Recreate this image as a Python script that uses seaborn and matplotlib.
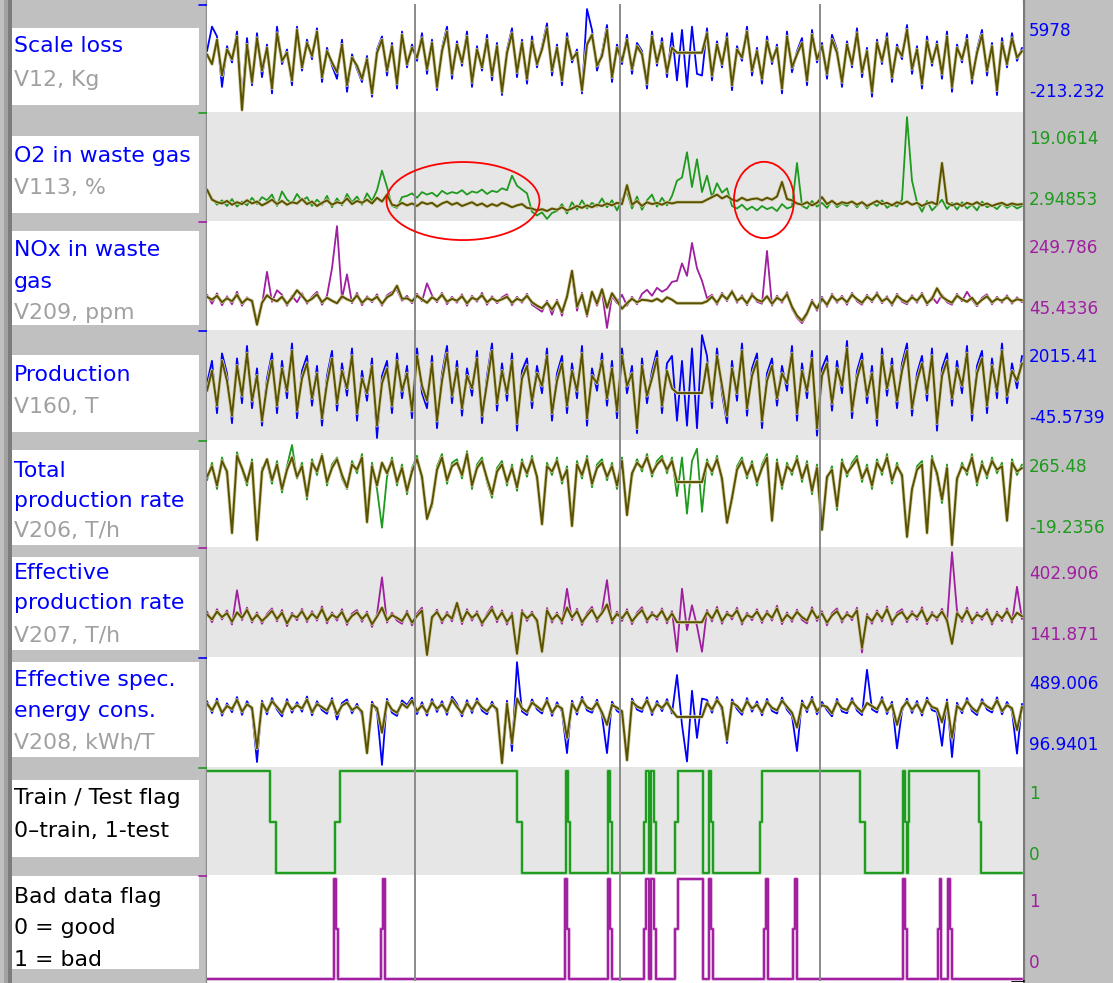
import numpy as np
import matplotlib
matplotlib.use("Agg")
import matplotlib.pyplot as plt
import seaborn as sns
from matplotlib.patches import Rectangle, Ellipse
from matplotlib import patheffects as pe
from matplotlib.transforms import blended_transform_factory

sns.set_theme(style="white")
plt.rcParams['font.family'] = ['DejaVu Sans']

# ---------------------------------------------------------------- data
SAMPLE_STEP = 5          # samples between stored points
N_SAMPLES = 816

scale_loss_meas = [3400, 4900, 4300, 1200, 3700, 2700, 4600, 400, 4200, 1300,
    4500, 1800, 3800, 800, 4900, 2600, 3500, 1300, 4900, 2200,
    4100, 2900, 4800, 1500, 3600, 2500, 1700, 4100, 900, 3200,
    2300, 1500, 3100, 600, 3500, 4300, 1900, 3900, 1100, 4600,
    2400, 3800, 2800, 4500, 2000, 4100, 1000, 3600, 4900, 1700,
    4000, 2500, 4600, 1200, 3700, 2200, 4400, 1600, 3900, 700,
    3500, 4800, 1800, 4100, 1400, 4300, 2400, 3700, 5100, 1900,
    3800, 1300, 4500, 2700, 3500, 800, 5978, 4700, 2200, 3300,
    5000, 1500, 3800, 2600, 4400, 2000, 3900, 3400, 1100, 4600,
    2500, 4200, 1800, 4500, 1600, 4700, 1200, 4900, 2000, 1900,
    4800, 1600, 4000, 2400, 4500, 1000, 3700, 2800, 4900, 1900,
    3600, 1400, 4300, 2600, 3800, 800, 4600, 2100, 3400, 4200,
    1300, 4700, 2700, 3900, 1700, 4400, 3500, 1200, 4000, 2400,
    4800, 1800, 3600, 600, 4100, 2600, 4500, 1500, 3800, 2900,
    5000, 2000, 3700, 1100, 4300, 2500, 4000, 1700, 4600, 900,
    3800, 2700, 4400, 1400, 3500, 4700, 1900, 3900, 700, 4200,
    2400, 4500, 2800, 3600]
scale_loss_model = [3200, 2600, 4100, 1900, 3500, 2900, 4300, -213.232, 3800, 1500,
    4200, 2200, 3600, 1100, 4500, 2800, 3300, 1600, 4700, 2400,
    3900, 3100, 4600, 1800, 3400, 2700, 2100, 3800, 1300, 3000,
    2500, 1700, 2900, 800, 3300, 4100, 2200, 3700, 1400, 4400,
    2600, 3600, 3000, 4200, 2300, 3900, 1200, 3400, 4600, 2000,
    3800, 2700, 4300, 1500, 3500, 2400, 4100, 1900, 3700, 900,
    3300, 4500, 2100, 3900, 1700, 4000, 2600, 3500, 4800, 2200,
    3600, 1600, 4200, 2900, 3300, 1000, 3800, 4400, 2500, 3100,
    4700, 1800, 3600, 2800, 4100, 2300, 3700, 3200, 1400, 4300,
    2700, 3900, 2100, 3600, 3300, 3300, 3300, 3300, 3300, 3300,
    4500, 1900, 3800, 2600, 4200, 1300, 3500, 3000, 4600, 2200,
    3400, 1700, 4000, 2800, 3600, 1100, 4300, 2400, 3200, 3900,
    1600, 4400, 2900, 3700, 2000, 4100, 3300, 1500, 3800, 2600,
    4500, 2100, 3400, 900, 3900, 2800, 4200, 1800, 3600, 3100,
    4700, 2300, 3500, 1400, 4000, 2700, 3800, 2000, 4300, 1200,
    3600, 2900, 4100, 1700, 3300, 4400, 2200, 3700, 1000, 3900,
    2600, 4200, 3000, 3400]

o2_meas = [7.4, 6.2, 5.2, 5.9, 5.0, 6.1, 4.9, 5.7, 5.1, 6.3,
    5.3, 6.4, 5.9, 6.8, 5.0, 7.3, 6.0, 5.4, 6.9, 5.8,
    6.4, 5.0, 6.0, 5.2, 6.6, 4.8, 6.2, 5.1, 6.9, 5.6,
    6.5, 5.2, 7.0, 5.8, 7.5, 10.6, 8.0, 5.0, 4.7, 6.4,
    6.6, 7.0, 6.3, 7.2, 6.8, 7.1, 6.5, 7.4, 6.9, 7.2,
    7.0, 7.5, 6.8, 7.3, 7.1, 7.6, 6.9, 7.4, 7.2, 7.8,
    7.5, 9.8, 8.2, 7.6, 7.0, 4.1, 3.5, 4.0, 2.94853, 3.9,
    4.2, 5.3, 3.8, 5.6, 4.4, 5.9, 4.6, 5.5, 4.9, 6.2,
    4.8, 5.9, 4.3, 6.1, 7.2, 4.6, 6.5, 4.4, 5.9, 6.8,
    4.9, 6.3, 5.1, 6.6, 9.0, 9.5, 13.5, 8.0, 12.4, 7.2,
    9.8, 6.4, 8.6, 7.1, 7.8, 5.0, 4.6, 5.2, 4.4, 4.9,
    4.3, 5.0, 4.5, 4.8, 4.2, 5.3, 4.6, 4.9, 11.8, 5.0,
    4.6, 5.8, 4.9, 5.5, 4.7, 5.9, 4.8, 5.4, 5.0, 5.8,
    4.8, 5.7, 4.6, 5.5, 5.0, 5.9, 4.7, 5.3, 4.9, 6.0,
    19.0614, 9.0, 5.6, 4.1, 5.8, 4.3, 5.1, 6.0, 4.5, 5.5,
    4.4, 5.6, 4.6, 5.2, 4.3, 5.7, 4.8, 5.1, 4.5, 5.4,
    4.7, 5.2, 4.6, 5.0]
o2_model = [7.6, 6.0, 5.6, 5.4, 5.8, 5.2, 5.6, 5.3, 5.9, 5.4,
    5.7, 5.1, 5.5, 6.0, 5.3, 5.8, 5.2, 5.6, 5.4, 6.1,
    5.3, 5.7, 5.0, 5.5, 5.9, 5.2, 5.6, 5.4, 6.2, 5.3,
    5.8, 5.5, 6.0, 5.4, 6.3, 5.7, 6.8, 5.2, 5.0, 5.5,
    5.1, 5.4, 5.0, 5.6, 5.3, 5.5, 4.9, 5.4, 5.7, 5.2,
    5.5, 5.0, 5.3, 5.6, 5.1, 5.4, 4.9, 5.3, 5.0, 5.5,
    5.2, 4.8, 5.1, 5.3, 4.7, 4.6, 4.3, 4.5, 4.2, 4.6,
    4.4, 4.8, 4.3, 4.6, 5.0, 4.7, 5.1, 4.8, 5.2, 5.0,
    5.4, 5.1, 5.5, 5.3, 8.3, 5.2, 5.8, 5.0, 5.6, 5.3,
    5.5, 5.2, 5.6, 5.4, 5.6, 5.6, 5.6, 5.6, 5.6, 5.6,
    6.0, 6.4, 6.8, 6.2, 6.6, 6.0, 5.8, 6.3, 5.9, 6.1,
    6.2, 5.9, 6.3, 6.0, 6.5, 8.8, 6.1, 5.9, 5.4, 5.2,
    5.6, 5.1, 5.5, 6.4, 5.3, 5.8, 5.2, 5.6, 5.4, 5.7,
    5.2, 5.6, 5.0, 5.4, 5.8, 5.3, 5.5, 5.1, 5.6, 5.3,
    5.7, 5.2, 5.5, 5.0, 5.4, 5.6, 5.2, 11.8, 5.5, 5.1,
    5.4, 5.0, 5.5, 5.2, 5.6, 5.1, 5.4, 5.0, 5.3, 5.5,
    5.1, 5.4, 5.2, 5.3]

nox_meas = [112, 94, 115, 91, 109, 93, 118, 90, 107, 96,
    60, 92, 158, 98, 121, 112, 90, 110, 97, 115,
    94, 108, 118, 92, 110, 165, 249.786, 104, 153, 95,
    116, 91, 109, 97, 113, 90, 111, 118, 122, 100,
    110, 95, 114, 99, 135, 111, 97, 116, 93, 108,
    96, 113, 90, 110, 98, 116, 92, 109, 95, 107,
    113, 91, 108, 96, 114, 92, 85, 78, 100, 72,
    102, 70, 112, 150, 80, 116, 68, 114, 90, 118,
    45.4336, 110, 95, 112, 90, 108, 93, 114, 122, 110,
    126, 118, 124, 138, 140, 175, 150, 216, 165, 140,
    105, 112, 92, 116, 99, 121, 96, 111, 91, 115,
    98, 94, 200, 90, 110, 96, 117, 84, 66, 55,
    72, 102, 80, 108, 88, 114, 96, 110, 92, 116,
    99, 92, 112, 97, 117, 95, 109, 90, 114, 98,
    93, 111, 96, 116, 91, 108, 95, 112, 97, 92,
    114, 99, 118, 102, 89, 106, 113, 93, 108, 96,
    111, 94, 107, 97]
nox_model = [108, 102, 110, 97, 105, 99, 112, 95, 104, 100,
    52, 96, 111, 103, 99, 108, 94, 106, 121, 110,
    98, 104, 113, 97, 106, 100, 95, 109, 103, 99,
    111, 96, 105, 101, 108, 94, 107, 113, 130, 104,
    105, 99, 110, 103, 96, 107, 101, 112, 98, 104,
    100, 109, 95, 106, 102, 111, 97, 105, 99, 103,
    108, 96, 104, 100, 110, 97, 90, 85, 96, 82,
    98, 77, 108, 160, 88, 112, 72, 118, 94, 123,
    86, 115, 100, 84, 95, 104, 97, 102, 101, 99,
    104, 98, 107, 102, 95, 95, 95, 95, 95, 95,
    99, 108, 96, 112, 103, 118, 100, 107, 95, 111,
    102, 98, 109, 94, 106, 100, 113, 88, 70, 60,
    75, 98, 84, 104, 92, 110, 100, 106, 97, 112,
    103, 96, 108, 101, 113, 99, 105, 94, 110, 102,
    97, 107, 100, 112, 95, 104, 125, 108, 101, 96,
    110, 103, 98, 106, 93, 102, 109, 97, 104, 100,
    107, 98, 103, 101]

production_meas = [1050, 1500, 450, 1650, 1250, 250, 1550, 650, 1800, 550,
    1350, 200, 1150, 1650, 450, 1500, 750, 1850, 350, 1300,
    1600, 600, 1400, 200, 1200, 1700, 500, 1450, 800, 1750,
    300, 1300, 700, 1550, -45.5739, 1200, 1500, 450, 1650, 750,
    1400, 350, 1750, 850, 550, 1600, 150, 1250, 1800, 650,
    1500, 400, 1350, 800, 1700, 250, 1200, 1850, 500, 1450,
    700, 1650, 100, 1300, 1550, 550, 1400, 850, 1750, 300,
    1250, 1600, 450, 1450, 750, 1800, 200, 1350, 900, 1650,
    600, 1500, 350, 1750, 850, 1400, 50, 1550, 650, 1300,
    1700, 450, 1450, 1600, 300, 1500, 200, 1750, 150, 2015.41,
    1600, 550, 1750, 850, 250, 1500, 700, 1850, 400, 1350,
    1650, 150, 1250, 1550, 600, 1400, 900, 1800, 300, 1450,
    750, 1700, 0, 1350, 1600, 500, 1500, 850, 1900, 350,
    1300, 1650, 650, 1400, 200, 1750, 800, 1550, 550, 1450,
    1850, 400, 1250, 1600, 700, 1750, 100, 1350, 1650, 600,
    1500, 850, 1800, 300, 1400, 1700, 450, 1550, 750, 1850,
    650, 1450, 950, 1600]
production_model = [900, 1300, 600, 1500, 1100, 400, 1400, 800, 1650, 700,
    1200, 300, 1000, 1500, 600, 1350, 900, 1700, 500, 1150,
    1450, 750, 1250, 350, 1050, 1550, 650, 1300, 950, 1600,
    450, 1150, 850, 1400, 200, 1050, 1350, 600, 1500, 900,
    1250, 500, 1600, 1000, 700, 1450, 300, 1100, 1650, 800,
    1350, 550, 1200, 950, 1550, 400, 1050, 1700, 650, 1300,
    850, 1500, 250, 1150, 1400, 700, 1250, 1000, 1600, 450,
    1100, 1450, 600, 1300, 900, 1650, 350, 1200, 1050, 1500,
    750, 1350, 500, 1600, 1000, 1250, 150, 1400, 800, 1150,
    1550, 600, 1300, 950, 855, 855, 855, 855, 855, 855,
    1450, 700, 1600, 1000, 400, 1350, 850, 1700, 550, 1200,
    1500, 300, 1100, 1400, 750, 1250, 1050, 1650, 450, 1300,
    900, 1550, 150, 1200, 1450, 650, 1350, 1000, 1750, 500,
    1150, 1500, 800, 1250, 350, 1600, 950, 1400, 700, 1300,
    1700, 550, 1100, 1450, 850, 1600, 250, 1200, 1500, 750,
    1350, 1000, 1650, 450, 1250, 1550, 600, 1400, 900, 1700,
    800, 1300, 1100, 1450]

total_rate_meas = [165, 215, 140, 230, 180, 20, 245, 195, 150, 225,
    5, 200, 215, 155, 220, 130, 205, 265.48, 170, 215,
    110, 225, 180, 240, 150, 210, 230, 170, 140, 220,
    185, 240, 60, 215, 140, 30, 175, 230, 150, 210,
    125, 200, 235, 165, 65, 90, 205, 240, 155, 215,
    225, 170, 248, 140, 210, 230, 160, 115, 200, 220,
    150, 210, 135, 225, 175, 235, 165, 50, 215, 180,
    230, 155, 205, 45, 220, 170, 235, 145, 210, 225,
    165, 215, 140, 230, 75, 175, 225, 190, 240, 175,
    220, 235, 185, 230, 120, 230, 70, 220, 255, 75,
    225, 180, 235, 160, 55, 105, 205, 230, 170, 220,
    150, 210, 240, 60, 225, 140, 215, 180, 235, 160,
    220, 125, 210, 35, 165, 205, 80, 225, 175, 215,
    235, 160, 210, 140, 225, 180, 240, 155, 215, 170,
    15, 130, 205, 220, 25, 235, 175, 100, 210, -10,
    160, 215, 180, 240, 150, 220, 170, 230, 185, 215,
    60, 225, 180, 210]
total_rate_model = [175, 205, 150, 220, 190, 15, 235, 200, 160, 215,
    -5, 190, 225, 165, 210, 140, 195, 230, 175, 205,
    120, 215, 190, 235, 160, 200, 225, 180, 145, 210,
    195, 230, 46, 205, 150, 215, 185, 220, 160, 200,
    135, 190, 225, 175, 55, 100, 195, 230, 165, 205,
    215, 180, 240, 150, 200, 220, 170, 125, 190, 210,
    160, 200, 145, 215, 185, 225, 175, 40, 205, 190,
    220, 165, 195, 35, 210, 180, 225, 155, 200, 215,
    175, 205, 150, 220, 66, 185, 215, 200, 230, 185,
    210, 225, 195, 220, 160, 160, 160, 160, 160, 160,
    215, 190, 225, 170, 44, 115, 195, 220, 180, 210,
    160, 200, 230, 50, 215, 150, 205, 190, 225, 170,
    210, 135, 200, 24, 175, 195, 90, 215, 185, 205,
    225, 170, 200, 150, 215, 190, 230, 165, 205, 180,
    4, 140, 195, 210, 15, 225, 185, 110, 200, -19.2356,
    170, 205, 190, 230, 160, 210, 180, 220, 195, 205,
    50, 215, 190, 200]

eff_rate_meas = [252, 225, 258, 232, 255, 219, 306, 230, 262, 224,
    250, 221, 246, 260, 227, 256, 215, 249, 230, 259,
    225, 253, 229, 265, 222, 250, 229, 258, 218, 247,
    256, 226, 252, 213, 245, 339, 224, 249, 229, 221,
    254, 217, 247, 262, 150, 232, 257, 222, 251, 227,
    268, 220, 258, 229, 253, 216, 246, 265, 225, 255,
    219, 249, 152, 256, 228, 252, 223, 157, 261, 224,
    250, 221, 310, 230, 259, 218, 248, 264, 226, 254,
    332, 222, 252, 228, 258, 220, 249, 263, 224, 251,
    231, 260, 222, 253, 150, 310, 205, 268, 215, 150,
    256, 227, 264, 221, 252, 232, 262, 219, 249, 230,
    258, 223, 254, 229, 267, 220, 250, 226, 257, 231,
    222, 263, 228, 253, 217, 248, 260, 224, 251, 230,
    262, 148, 246, 221, 255, 227, 265, 219, 249, 258,
    225, 253, 231, 263, 220, 251, 229, 259, 223, 402.906,
    254, 226, 262, 222, 250, 231, 258, 219, 252, 228,
    260, 224, 315, 233]
eff_rate_model = [245, 232, 252, 238, 248, 226, 250, 236, 256, 230,
    244, 228, 240, 254, 233, 249, 222, 243, 237, 253,
    231, 247, 235, 258, 229, 244, 236, 251, 225, 241,
    250, 233, 246, 220, 239, 262, 230, 243, 236, 228,
    248, 224, 241, 255, 141.871, 238, 251, 229, 245, 234,
    274, 227, 252, 236, 247, 223, 240, 258, 232, 249,
    226, 243, 145, 250, 235, 246, 230, 150, 255, 231,
    244, 228, 262, 237, 253, 225, 242, 257, 233, 248,
    270, 229, 246, 235, 252, 227, 243, 256, 231, 245,
    238, 254, 229, 247, 225, 225, 225, 225, 225, 225,
    250, 234, 257, 228, 246, 239, 255, 226, 243, 237,
    252, 230, 248, 236, 260, 227, 244, 233, 251, 238,
    229, 256, 235, 247, 224, 242, 253, 231, 245, 237,
    255, 160, 240, 228, 249, 234, 258, 226, 243, 251,
    232, 247, 238, 256, 227, 245, 236, 252, 230, 170,
    248, 233, 255, 229, 244, 238, 251, 226, 246, 235,
    253, 231, 249, 240]

energy_meas = [340, 295, 350, 285, 332, 298, 356, 288, 340, 305,
    108, 342, 290, 352, 308, 282, 348, 296, 336, 300,
    358, 286, 340, 306, 292, 352, 270, 333, 347, 294,
    330, 288, 160, 338, 300, 96.9401, 349, 296, 284, 343,
    326, 354, 291, 336, 285, 348, 299, 340, 288, 357,
    330, 282, 344, 295, 351, 304, 290, 338, 298, 130,
    342, 150, 489.006, 301, 287, 347, 309, 293, 353, 284,
    336, 300, 142, 342, 289, 357, 305, 296, 346, 285,
    142, 338, 303, 290, 120, 350, 308, 299, 355, 287,
    341, 302, 348, 293, 440, 250, 110, 380, 200, 350,
    345, 296, 356, 305, 180, 347, 310, 288, 352, 300,
    339, 286, 349, 303, 293, 354, 307, 284, 150, 343,
    298, 357, 290, 337, 306, 282, 349, 301, 294, 352,
    304, 287, 460, 309, 297, 356, 291, 338, 160, 302,
    350, 295, 341, 285, 354, 306, 299, 170, 347, 127,
    334, 294, 352, 303, 287, 348, 308, 297, 355, 290,
    337, 301, 140, 330]
energy_model = [330, 305, 338, 296, 322, 310, 345, 300, 328, 315,
    160, 332, 302, 340, 318, 295, 336, 308, 325, 312,
    346, 298, 329, 317, 304, 341, 290, 323, 335, 306,
    319, 300, 142, 327, 313, 220, 338, 308, 296, 331,
    315, 342, 303, 324, 297, 336, 311, 328, 300, 345,
    318, 294, 332, 307, 339, 316, 302, 326, 310, 104,
    330, 180, 350, 313, 299, 335, 320, 305, 341, 296,
    324, 312, 200, 330, 301, 345, 317, 308, 334, 297,
    250, 326, 315, 302, 115, 338, 320, 311, 343, 299,
    329, 314, 336, 305, 280, 280, 280, 280, 280, 280,
    333, 308, 344, 317, 192, 335, 322, 300, 340, 312,
    327, 298, 337, 315, 305, 342, 319, 296, 240, 331,
    310, 345, 302, 325, 318, 294, 337, 313, 306, 340,
    316, 299, 333, 321, 309, 344, 303, 326, 250, 314,
    338, 307, 329, 297, 342, 318, 311, 260, 335, 200,
    322, 306, 340, 315, 299, 336, 320, 309, 343, 302,
    325, 313, 230, 318]

# flags: sample where a new level starts, and that level
train_test_at = [0, 63, 69, 128, 133, 310, 315, 359, 361, 363, 401, 403, 405,
    437, 439, 442, 444, 447, 449, 468, 471, 496, 502, 504, 506, 553, 555,
    653, 658, 696, 698, 700, 701, 702, 772, 774]
train_test_lvl = [1, 0.5, 0, 0.5, 1, 0.5, 0, 1, 0.5, 0, 1, 0.5, 0,
    0.5, 1, 0, 1, 0.5, 0, 0.5, 1, 0, 1, 0.5, 0, 0.5, 1,
    0.5, 0, 1, 0.5, 0, 0.5, 1, 0.5, 0]

bad_data_at = [0, 127, 129, 131, 174, 176, 178, 358, 360, 362, 401, 403, 405,
    437, 439, 442, 444, 447, 449, 468, 471, 496, 502, 504, 506, 557, 559, 561,
    586, 588, 590, 696, 698, 700, 731, 733, 734, 741, 743, 745]
bad_data_lvl = [0, 1, 0.5, 0, 0.5, 1, 0, 1, 0.5, 0, 1, 0.5, 0,
    0.5, 1, 0, 1, 0.5, 0, 0.5, 1, 0, 1, 0.5, 0, 0.5, 1, 0,
    0.5, 1, 0, 1, 0.5, 0, 0.5, 1, 0, 1, 0.5, 0]

marker_samples = [208, 413, 613]

row_titles = ["Scale loss", "O2 in waste gas", "NOx in waste\ngas", "Production",
              "Total\nproduction rate", "Effective\nproduction rate",
              "Effective spec.\nenergy cons.", "Train / Test flag\n0–train, 1-test",
              "Bad data flag\n0 = good\n1 = bad"]
row_units = ["V12, Kg", "V113, %", "V209, ppm", "V160, T", "V206, T/h",
             "V207, T/h", "V208, kWh/T", None, None]

# ---------------------------------------------------------------- styling
BLUE, GREEN, PURPLE = "#0000ff", "#1e9a1e", "#a01ea0"
OLIVE, OLIVE_HALO = "#5a5200", "#d4d0a8"
ROW_GRAY = "#e6e6e6"
PANEL = "#c0c0c0"

W, H, DPI = 1113, 983, 100
fig = plt.figure(figsize=(W / DPI, H / DPI), dpi=DPI)
fig.patch.set_facecolor("white")

bg = fig.add_axes([0, 0, 1, 1], zorder=0)
bg.set_xlim(0, W)
bg.set_ylim(H, 0)
bg.axis("off")

# side panels
bg.add_patch(Rectangle((0, 0), 206, H, color=PANEL, lw=0))
bg.add_patch(Rectangle((4, 0), 4, H, color="#a2a2a2", lw=0))
bg.add_patch(Rectangle((8, 0), 4, H, color="#7c7c7c", lw=0))
bg.plot([205.5, 205.5], [0, H], color="#8c8c8c", lw=1.0)
bg.add_patch(Rectangle((1023, 0), W - 1023, H, color=PANEL, lw=0))
bg.plot([1023.5, 1023.5], [0, H], color="#7a7a7a", lw=1.6)

row_tops = [4, 112, 221, 330, 440, 547, 657, 767, 875]
row_bots = row_tops[1:] + [981]
box_spans = [(28, 105), (136, 213), (231, 325), (355, 432), (450, 545),
             (557, 650), (662, 757), (780, 857), (876, 969)]
line_baselines = [[52, 86], [162, 194], [256, 288, 319], [381, 413],
                  [477, 507, 537], [579, 609, 642], [686, 717, 749],
                  [804, 837], [903, 934, 966]]
row_colors = [BLUE, GREEN, PURPLE, BLUE, GREEN, PURPLE, BLUE, GREEN, PURPLE]

LABEL_FS = 15.8
VALUE_FS = 12.2

for r in range(9):
    top, bot = box_spans[r]
    bg.add_patch(Rectangle((12, top), 187, bot - top, color="white", lw=0))
    lines = row_titles[r].split("\n")
    colors = [BLUE] * len(lines)
    if row_units[r] is not None:
        lines.append(row_units[r])
        colors.append("#a0a0a0")
    else:
        colors = ["black"] * len(lines)
    for txt, col, yb in zip(lines, colors, line_baselines[r]):
        bg.text(14, yb, txt, color=col, fontsize=LABEL_FS, va="baseline", ha="left")
    # small colored tick at the row boundary
    bg.plot([199, 207], [row_tops[r] + 0.5, row_tops[r] + 0.5], color=row_colors[r], lw=1.2)


def add_row(r):
    top, bot = row_tops[r], row_bots[r]
    ax = fig.add_axes([207 / W, 1 - bot / H, 816 / W, (bot - top) / H],
                      zorder=2 if r == 1 else 1)
    ax.set_facecolor(ROW_GRAY if r % 2 == 1 else "white")
    for s in ax.spines.values():
        s.set_visible(False)
    ax.set_xticks([])
    ax.set_yticks([])
    ax.set_xlim(0, N_SAMPLES)
    for m in marker_samples:
        ax.axvline(m, color="#8a8a8a", lw=1.4, zorder=5)
    return ax


def draw_pair(ax, meas, model, color):
    x_meas = np.arange(len(meas)) * SAMPLE_STEP
    x_model = np.arange(len(model)) * SAMPLE_STEP
    sns.lineplot(x=x_meas, y=meas, ax=ax, color=color, linewidth=1.3,
                 estimator=None, zorder=2)
    sns.lineplot(x=x_model, y=model, ax=ax, color=OLIVE, linewidth=1.4,
                 estimator=None, zorder=3,
                 path_effects=[pe.Stroke(linewidth=2.5, foreground=OLIVE_HALO), pe.Normal()])
    vmin = min(min(meas), min(model))
    vmax = max(max(meas), max(model))
    rng = vmax - vmin
    ax.set_ylim(vmin - 0.02 * rng, vmax + 0.05 * rng)
    ax.set_xlabel("")
    ax.set_ylabel("")
    return vmin, vmax


def draw_flag(ax, at, lvl, color, halo):
    xs = list(at) + [N_SAMPLES - 1]
    ys = list(lvl) + [lvl[-1]]
    sns.lineplot(x=xs, y=ys, ax=ax, color=color, linewidth=1.4, estimator=None,
                 drawstyle="steps-post", zorder=3,
                 path_effects=[pe.Stroke(linewidth=2.6, foreground=halo), pe.Normal()])
    ax.set_ylim(-0.02, 1.04)
    ax.set_xlabel("")
    ax.set_ylabel("")


series = [
    (scale_loss_meas, scale_loss_model, BLUE),
    (o2_meas, o2_model, GREEN),
    (nox_meas, nox_model, PURPLE),
    (production_meas, production_model, BLUE),
    (total_rate_meas, total_rate_model, GREEN),
    (eff_rate_meas, eff_rate_model, PURPLE),
    (energy_meas, energy_model, BLUE),
]

axes = []
for r, (meas, model, col) in enumerate(series):
    ax = add_row(r)
    vmin, vmax = draw_pair(ax, meas, model, col)
    axes.append(ax)
    bg.text(1029, row_tops[r] + 32, f"{vmax:.6g}", color=col, fontsize=VALUE_FS,
            va="baseline", ha="left")
    bg.text(1029, row_tops[r] + 93, f"{vmin:.6g}", color=col, fontsize=VALUE_FS,
            va="baseline", ha="left")

ax8 = add_row(7)
draw_flag(ax8, train_test_at, train_test_lvl, GREEN, "#a8d8a8")
ax9 = add_row(8)
draw_flag(ax9, bad_data_at, bad_data_lvl, PURPLE, "#dca8dc")
for r, col in [(7, GREEN), (8, PURPLE)]:
    bg.text(1029, row_tops[r] + 32, "1", color=col, fontsize=VALUE_FS, va="baseline")
    bg.text(1029, row_tops[r] + 93, "0", color=col, fontsize=VALUE_FS, va="baseline")

# highlighted regions in the O2 row
ax_o2 = axes[1]
trans = blended_transform_factory(ax_o2.transData, ax_o2.transAxes)
for cx, cy, w, h in [(256, 0.183, 153, 0.716), (557, 0.193, 60, 0.70)]:
    ax_o2.add_patch(Ellipse((cx, cy), w, h, transform=trans, fill=False,
                            edgecolor="#ff0000", lw=1.3, clip_on=False, zorder=8))

# corner mark
bg.plot([1022, 1022], [968, 981], color="black", lw=1.3, zorder=10)
bg.plot([1012, 1024], [980.5, 980.5], color="black", lw=1.3, zorder=10)

fig.savefig("out.png", dpi=DPI)
